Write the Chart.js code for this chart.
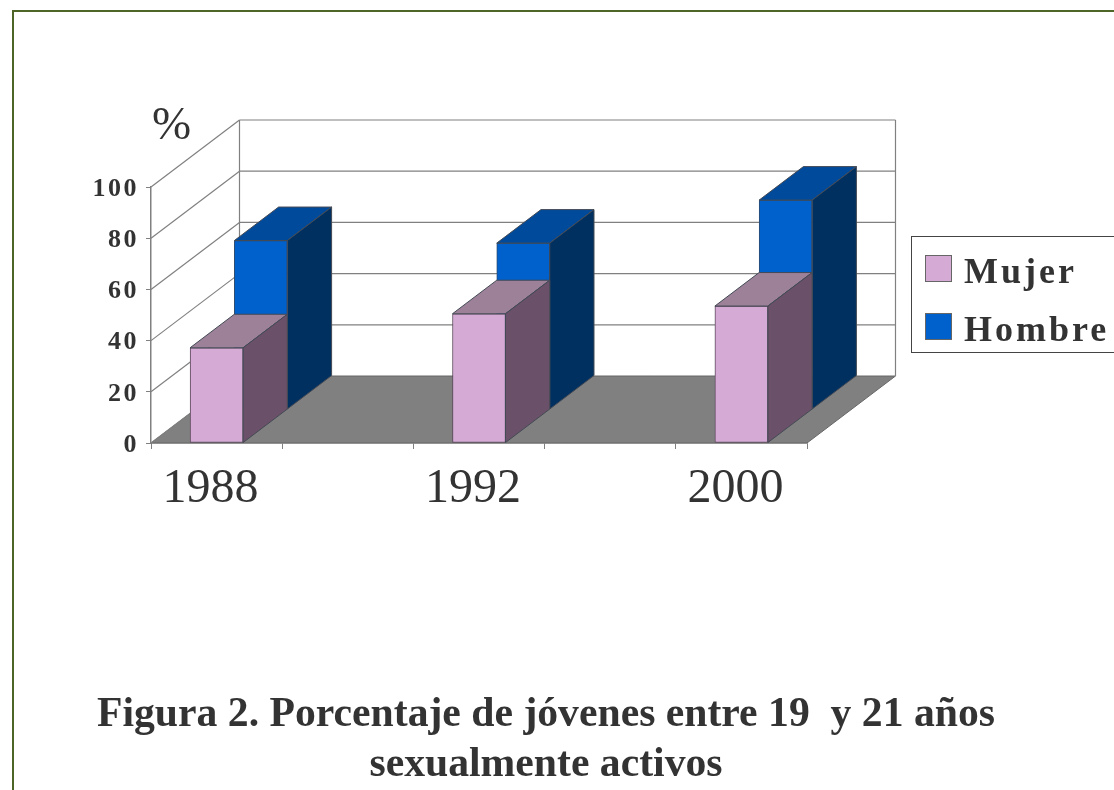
<!DOCTYPE html>
<html>
<head>
<meta charset="utf-8">
<title>Figura 2</title>
<script src="https://cdn.jsdelivr.net/npm/chart.js@4"></script>
<style>
  html, body { margin: 0; padding: 0; background: #fff; overflow: hidden; }
  #frame { position: absolute; left: 12px; top: 10px; width: 1102px; height: 780px;
           border-left: 2px solid #4d6628; border-top: 2px solid #4d6628; box-sizing: border-box; }
  canvas { position: absolute; left: 0; top: 0; }
</style>
</head>
<body>
<canvas id="chart" width="1114" height="790"></canvas>
<div id="frame"></div>
<script>
// blank categories give the five tick divisions of the original axis
const categories = ['1988', '', '1992', '', '2000'];
const mujer = [37.2, null, 50.5, null, 53.5];
const hombre = [66, null, 65, null, 81.8];
const yTicks = [0, 20, 40, 60, 80, 100];
const titleLines = ['Figura 2. Porcentaje de jóvenes entre 19  y 21 años', 'sexualmente activos'];

const SERIF = '"Liberation Serif", "DejaVu Serif", serif';
const INK = '#333333';
const GRID = '#808080';
const DEPTH = { x: 44.25, y: -33.5 };   // one row of the 3D box

const faces = {
  Mujer: { top: '#9c8199', side: '#6a5068' },
  Hombre: { top: '#004a9c', side: '#003060' }
};

function poly(ctx, pts, fill, stroke) {
  ctx.beginPath();
  pts.forEach((p, i) => (i ? ctx.lineTo(p[0], p[1]) : ctx.moveTo(p[0], p[1])));
  ctx.closePath();
  if (fill) { ctx.fillStyle = fill; ctx.fill(); }
  if (stroke) { ctx.strokeStyle = stroke; ctx.lineWidth = 1; ctx.stroke(); }
}

function line(ctx, x1, y1, x2, y2) {
  ctx.beginPath();
  ctx.moveTo(x1, y1);
  ctx.lineTo(x2, y2);
  ctx.stroke();
}

const box3d = {
  id: 'box3d',
  afterLayout(chart) {
    // title is centred on the page, not on the plot
    chart.titleBlock.left = 0;
    chart.titleBlock.right = 1092;
  },
  beforeDatasetsDraw(chart) {
    const { ctx, chartArea: a, scales: { y } } = chart;
    const dx = DEPTH.x * 2, dy = DEPTH.y * 2;
    ctx.save();
    // floor
    poly(ctx, [[a.left, a.bottom], [a.right, a.bottom], [a.right + dx, a.bottom + dy], [a.left + dx, a.bottom + dy]], '#808080', '#666666');
    ctx.strokeStyle = GRID;
    ctx.lineWidth = 1.2;
    // walls, one line per tick
    yTicks.forEach(v => {
      const py = y.getPixelForValue(v);
      line(ctx, a.left, py, a.left + dx, py + dy);
      if (v > 0) line(ctx, a.left + dx, py + dy, a.right + dx, py + dy);
    });
    line(ctx, a.left + dx, a.top + dy, a.left + dx, a.bottom + dy);
    line(ctx, a.right + dx, a.top + dy, a.right + dx, a.bottom + dy);
    ctx.restore();
  },
  beforeDatasetDraw(chart, args) {
    const ctx = chart.ctx;
    ctx.save();
    // second series stands one row further back
    if (args.index === 1) ctx.translate(DEPTH.x, DEPTH.y);
  },
  afterDatasetDraw(chart, args) {
    const ctx = chart.ctx;
    const ds = chart.data.datasets[args.index];
    const f = faces[ds.label];
    args.meta.data.forEach((bar, i) => {
      if (ds.data[i] == null) return;
      const p = bar.getProps(['x', 'y', 'base', 'width'], true);
      const l = p.x - p.width / 2, r = p.x + p.width / 2;
      poly(ctx, [[l, p.y], [r, p.y], [r + DEPTH.x, p.y + DEPTH.y], [l + DEPTH.x, p.y + DEPTH.y]], f.top, '#444a55');
      poly(ctx, [[r, p.y], [r + DEPTH.x, p.y + DEPTH.y], [r + DEPTH.x, p.base + DEPTH.y], [r, p.base]], f.side, '#444a55');
    });
    ctx.restore();
  },
  afterDraw(chart) {
    const ctx = chart.ctx;
    ctx.save();
    ctx.fillStyle = INK;
    ctx.textBaseline = 'alphabetic';
    ctx.textAlign = 'left';
    ctx.font = '47px ' + SERIF;
    ctx.fillText('%', 152, 139);

    // legend
    ctx.fillStyle = '#ffffff';
    ctx.strokeStyle = '#444444';
    ctx.lineWidth = 1;
    ctx.fillRect(911.5, 236.5, 210, 116);
    ctx.strokeRect(911.5, 236.5, 210, 116);
    chart.data.datasets.forEach((ds, i) => {
      const ly = 255 + i * 58;
      ctx.fillStyle = ds.backgroundColor;
      ctx.strokeStyle = '#666666';
      ctx.fillRect(925.5, ly + 0.5, 26, 26);
      ctx.strokeRect(925.5, ly + 0.5, 26, 26);
      ctx.fillStyle = INK;
      ctx.font = 'bold 36px ' + SERIF;
      ctx.letterSpacing = '3px';
      ctx.fillText(ds.label, 964, ly + 28);
      ctx.letterSpacing = '0px';
    });
    ctx.restore();
  }
};

const chart = new Chart(document.getElementById('chart'), {
  type: 'bar',
  data: {
    labels: categories,
    datasets: [
      { label: 'Mujer', data: mujer, backgroundColor: '#d5abd6', borderColor: '#5c4a5c' },
      { label: 'Hombre', data: hombre, backgroundColor: '#0060cc', borderColor: '#2c4a70' }
    ]
  },
  options: {
    responsive: false,
    animation: false,
    layout: { padding: { top: 187, right: 307, left: 0, bottom: 0 } },
    datasets: { bar: { grouped: false, barThickness: 53, borderWidth: 1, borderSkipped: false } },
    plugins: {
      legend: { display: false },
      tooltip: { enabled: false },
      title: {
        display: true,
        position: 'bottom',
        text: titleLines,
        color: INK,
        padding: 0,
        font: { family: SERIF, size: 41.7, weight: 'bold', lineHeight: 1.2 }
      }
    },
    scales: {
      x: {
        afterFit(s) { s.height = 246.9; },
        offset: true,
        grid: { offset: true, drawOnChartArea: false, drawTicks: true, tickLength: 6, color: GRID },
        border: { color: GRID, width: 1.5 },
        ticks: { color: INK, maxRotation: 0, autoSkip: false, padding: 12, font: { family: SERIF, size: 48 } }
      },
      y: {
        min: 0,
        max: 100,
        afterFit(s) { s.width = 151; },
        afterBuildTicks(s) { s.ticks = yTicks.map(v => ({ value: v })); },
        grid: { drawOnChartArea: false, drawTicks: true, tickLength: 5, color: GRID },
        border: { color: GRID, width: 1.5 },
        ticks: { color: INK, padding: 7, font: { family: SERIF, size: 26, weight: 'bold' } }
      }
    }
  },
  plugins: [box3d]
});

// y labels are letter-spaced and sit a bit lower in the original, x labels are not spaced
const yScale = chart.scales.y;
const drawYLabels = yScale.drawLabels;
yScale.drawLabels = function (area) {
  this.ctx.save();
  this.ctx.translate(0, 2);
  this.ctx.letterSpacing = '2.5px';
  drawYLabels.call(this, area);
  this.ctx.restore();
};
// year labels sit a little left of the bar centres
const xScale = chart.scales.x;
const drawXLabels = xScale.drawLabels;
xScale.drawLabels = function (area) {
  this.ctx.save();
  this.ctx.translate(-6, 0);
  drawXLabels.call(this, area);
  this.ctx.restore();
};
chart.draw();
</script>
</body>
</html>
